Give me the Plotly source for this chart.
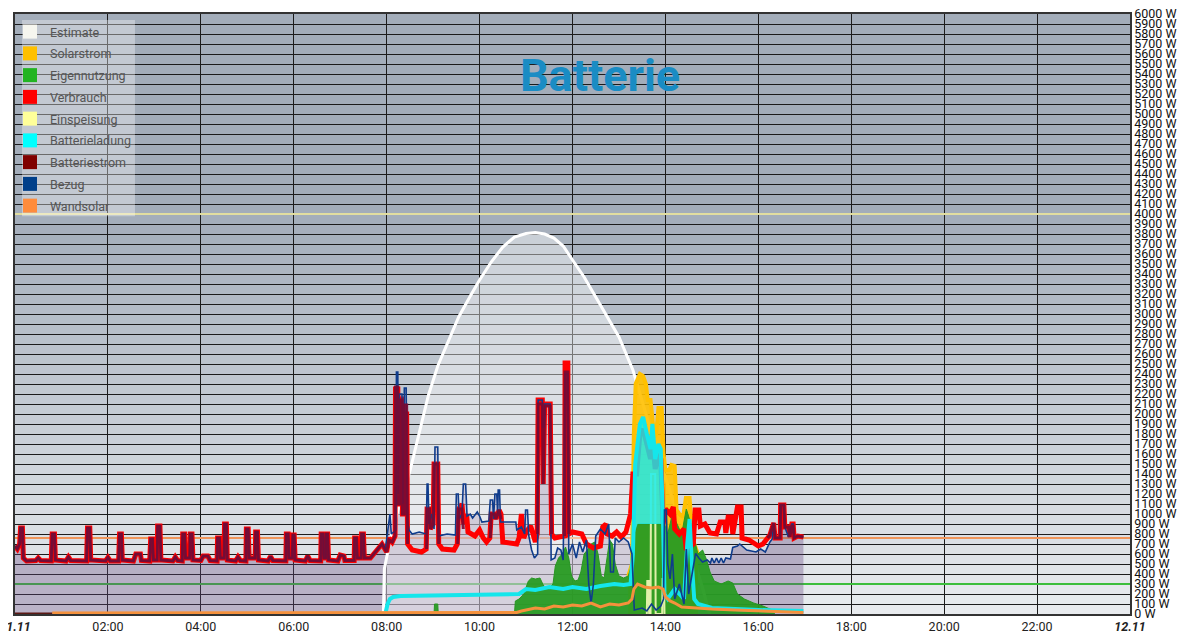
import plotly.graph_objects as go

# ---------------- data (hours since 11.11 00:00, watts) ----------------
night_t = [0.00, 0.05, 0.10, 0.12, 0.16, 0.18, 0.25, 0.45, 0.50, 0.55, 0.78, 0.80, 0.85, 0.87,
           1.10, 1.15, 1.20, 1.54, 1.56, 1.61, 1.63, 1.95, 2.00, 2.05, 2.23, 2.25, 2.29, 2.31,
           2.55, 2.60, 2.70, 2.72, 2.90, 2.92, 2.96, 2.98, 3.06, 3.07, 3.12, 3.14, 3.40, 3.45,
           3.50, 3.60, 3.61, 3.65, 3.67, 3.76, 3.77, 3.81, 3.83, 4.00, 4.05, 4.15, 4.20, 4.35,
           4.36, 4.40, 4.42, 4.50, 4.51, 4.55, 4.57, 4.75, 4.80, 4.85, 4.97, 4.98, 5.02, 5.04,
           5.17, 5.18, 5.22, 5.24, 5.45, 5.50, 5.55, 5.83, 5.84, 5.88, 5.90, 5.97, 5.98, 6.01,
           6.03, 6.25, 6.30, 6.35, 6.58, 6.59, 6.63, 6.65, 6.69, 6.70, 6.73, 6.75, 6.95, 7.00,
           7.08, 7.10, 7.30, 7.31, 7.35, 7.37, 7.45, 7.46, 7.50, 7.52, 7.65]
night_w = [680, 650, 700, 860, 860, 560, 530, 535, 560, 535, 530, 800, 800, 540,
           530, 570, 535, 530, 860, 860, 540, 530, 565, 530, 530, 800, 800, 540,
           530, 600, 600, 535, 530, 750, 750, 540, 540, 880, 880, 540, 530, 570,
           535, 530, 800, 800, 560, 560, 800, 800, 540, 535, 580, 580, 535, 530,
           760, 760, 560, 560, 900, 900, 540, 530, 570, 535, 530, 850, 850, 560,
           560, 820, 820, 540, 530, 575, 535, 530, 800, 800, 560, 560, 790, 790,
           540, 530, 580, 535, 530, 800, 800, 560, 560, 800, 800, 540, 530, 590,
           580, 535, 535, 760, 760, 560, 560, 800, 800, 560, 560]

verbrauch_t = [7.80, 7.90, 8.00, 8.05, 8.12, 8.18, 8.19, 8.24, 8.25, 8.28, 8.29, 8.33, 8.34, 8.38,
               8.39, 8.43, 8.45, 8.55, 8.75, 8.85, 8.87, 8.92, 8.94, 9.00, 9.02, 9.10, 9.12, 9.20,
               9.45, 9.52, 9.55, 9.62, 9.66, 9.72, 9.75, 9.90, 10.00, 10.08, 10.15, 10.22, 10.25,
               10.32, 10.35, 10.42, 10.46, 10.50, 10.80, 10.85, 10.90, 10.95, 11.00, 11.10, 11.20,
               11.24, 11.26, 11.35, 11.37, 11.40, 11.52, 11.55, 11.62, 11.75, 11.83, 11.84, 11.90,
               11.92, 12.00, 12.20, 12.30, 12.45, 12.60, 12.65, 12.72, 12.75, 12.85, 12.95, 13.05,
               13.15, 13.25, 13.30, 13.38, 13.45, 13.52, 13.60, 13.68, 13.72, 13.78, 13.85, 13.90,
               13.95, 14.00, 14.10, 14.17, 14.20,
               14.30, 14.40, 14.45, 14.60, 14.64, 14.72, 14.75, 14.85, 14.96, 15.10, 15.18, 15.28,
               15.30, 15.35, 15.42, 15.45, 15.55, 15.63, 15.65, 15.80, 15.90, 16.00, 16.10, 16.20,
               16.25, 16.33, 16.36, 16.47, 16.48, 16.55, 16.57, 16.65, 16.68, 16.72, 16.75, 16.77,
               16.85, 16.97]
verbrauch_w = [640, 700, 620, 760, 720, 780, 2250, 2250, 1100, 1100, 2150, 2150, 1000, 1000,
               2000, 2000, 700, 640, 620, 650, 1050, 1050, 850, 900, 1500, 1500, 700, 650,
               640, 700, 1050, 1100, 900, 1000, 820, 780, 840, 760, 720, 760, 1000,
               1000, 950, 1040, 1000, 720, 700, 760, 1000, 760, 820, 880, 720,
               800, 2140, 2140, 1300, 2100, 2100, 800, 760, 780, 780, 2510, 2510,
               800, 820, 800, 700, 660, 680, 870, 900, 800, 780, 820, 770,
               820, 1000, 1400, 1400, 1800, 1850, 1700, 1550, 1750, 1450, 1600, 1550,
               900, 1050, 1000, 1070, 850,
               800, 850, 640, 700, 1040, 1040, 880, 900, 810, 800, 920, 920,
               810, 970, 970, 800, 1070, 1070, 760, 740, 710, 680, 700, 760,
               790, 910, 760, 760, 1090, 1090, 870, 870, 770, 900, 900, 760,
               780, 770]

bezug_t = [7.80, 7.90, 7.97, 8.02, 8.07, 8.10, 8.16, 8.20, 8.21, 8.24, 8.25, 8.27, 8.33, 8.35,
           8.38, 8.42, 8.44, 8.48, 8.55, 8.70, 8.85, 8.87, 8.89, 8.91, 8.97, 9.02, 9.04, 9.10,
           9.12, 9.30, 9.48, 9.50, 9.54, 9.56, 9.62, 9.65, 9.70, 9.73, 9.80, 9.85, 9.95, 10.00,
           10.05, 10.20, 10.23, 10.28, 10.30, 10.33, 10.37, 10.39, 10.40, 10.43, 10.45, 10.78,
           10.80, 10.90, 10.97, 10.99, 11.03, 11.06, 11.12, 11.18, 11.25, 11.26, 11.35, 11.36,
           11.39, 11.40, 11.52, 11.54, 11.62, 11.68, 11.75, 11.80, 11.84, 11.90, 11.92, 12.00,
           12.08, 12.15, 12.22, 12.30, 12.35, 12.40, 12.45, 12.50, 12.60, 12.70, 12.78, 12.82,
           12.88, 12.92, 13.00, 13.10, 13.20, 13.28, 13.33, 13.50, 13.60, 13.70, 13.80, 13.90,
           13.96, 13.98, 14.02, 14.05, 14.10, 14.15, 14.20, 14.30, 14.40, 14.45, 14.50, 14.60,
           14.65, 14.72, 14.80, 14.90, 14.97, 15.00, 15.05, 15.10, 15.15, 15.20, 15.25, 15.30,
           15.40, 15.45, 15.55, 15.60, 15.75, 15.85, 15.95, 16.05, 16.15, 16.25, 16.30, 16.33,
           16.36, 16.47, 16.48, 16.55, 16.57, 16.65, 16.72, 16.75, 16.77, 16.85, 16.97]
bezug_w = [640, 700, 640, 850, 1000, 800, 820, 840, 2420, 2420, 1200, 2200, 2200, 1100,
           2260, 2260, 950, 840, 800, 820, 800, 1300, 1300, 900, 1000, 850, 1670, 1670,
           780, 800, 790, 1200, 1200, 950, 1000, 1300, 1300, 980, 1000, 960, 1020, 980,
           920, 930, 1140, 1140, 950, 1200, 1200, 1000, 1240, 1240, 920, 920,
           840, 870, 800, 1040, 1040, 780, 640, 560, 600, 2140, 2140, 1870,
           1870, 2100, 2100, 540, 560, 660, 640, 540, 2400, 2400, 600, 700,
           560, 720, 620, 740, 300, 110, 300, 780, 850, 800, 900, 420,
           420, 760, 720, 760, 720, 600, 40, 60, 30, 100, 40, 80,
           150, 1040, 1040, 500, 350, 600, 150, 300, 100, 650, 200, 500,
           606, 560, 520, 540, 510, 560, 510, 560, 510, 560, 510, 560,
           550, 666, 680, 700, 640, 630, 620, 650, 620, 720, 750, 910,
           760, 760, 1090, 1090, 870, 770, 900, 900, 760, 780, 770]

# Batteriestrom during the day: spikes only (None = no value)
batterie_t = [7.80, 7.90, 8.00, 8.05, 8.12, 8.18, 8.19, 8.24, 8.25, 8.28, 8.29, 8.33, 8.34, 8.38, 8.39,
              8.43, 8.45, 8.46,
              8.86, 8.87, 8.92, 8.94, 9.00, 9.02, 9.10, 9.12, 9.13,
              9.53, 9.55, 9.62, 9.65, 9.66,
              10.23, 10.25, 10.32, 10.35, 10.42, 10.46, 10.47,
              11.25, 11.26, 11.35, 11.37, 11.40, 11.52, 11.55, 11.56,
              11.83, 11.84, 11.90, 11.92, 11.93,
              16.20, 16.25, 16.33, 16.36, 16.47, 16.48, 16.55, 16.57, 16.65, 16.68, 16.72, 16.75,
              16.77, 16.85, 16.97]
batterie_w = [640, 700, 620, 740, 720, 780, 2270, 2270, 1100, 1100, 2140, 2140, 1000, 1000, 2090,
              2090, 700, None,
              650, 1050, 1050, 850, 900, 1500, 1500, 700, None,
              700, 1050, 1050, 850, None,
              760, 1000, 1000, 950, 1040, 950, None,
              800, 2100, 2100, 1300, 2080, 2080, 800, None,
              780, 2420, 2420, 800, None,
              760, 790, 910, 760, 760, 1090, 1090, 870, 870, 770, 880, 880,
              760, 780, 770]

estimate_t = [7.93, 7.95, 8.10, 8.30, 8.50, 8.70, 8.90, 9.10, 9.30, 9.55, 9.80, 10.00, 10.25, 10.50,
              10.75, 11.00, 11.20, 11.40, 11.60, 11.80, 12.00, 12.25, 12.50, 12.75, 13.00, 13.30,
              13.60, 13.90, 14.20, 14.40, 14.60, 14.80, 14.95]
estimate_w = [0, 450, 800, 1130, 1430, 1820, 2190, 2480, 2700, 2970, 3180, 3340, 3520, 3670,
              3770, 3805, 3815, 3800, 3760, 3680, 3540, 3370, 3170, 2970, 2770, 2440,
              1980, 1500, 1090, 860, 560, 260, 0]

solar_t = [13.20, 13.28, 13.32, 13.36, 13.45, 13.52, 13.58, 13.62, 13.68, 13.72, 13.76, 13.80, 13.85,
           13.92, 13.96, 14.00, 14.08, 14.13, 14.20, 14.24, 14.30, 14.38, 14.44, 14.52, 14.58,
           14.62, 14.70]
solar_w = [380, 500, 1800, 2300, 2400, 2380, 2300, 2140, 2140, 1900, 1770, 1800, 2060,
           2060, 1600, 1440, 1440, 1490, 1480, 1040, 1000, 970, 1160, 1160, 800,
           700, 600]

eigen_t = [9.02, 9.03, 9.10, 9.11, 10.75, 10.77, 10.85, 10.95, 11.05, 11.12, 11.20, 11.30, 11.38,
           11.50, 11.58, 11.63, 11.70, 11.78, 11.85, 11.92, 11.98, 12.05, 12.12, 12.18, 12.25,
           12.32, 12.40, 12.48, 12.55, 12.62, 12.68, 12.74, 12.80, 12.86, 12.92, 13.00, 13.10,
           13.20, 13.28, 13.32, 13.40, 13.98, 14.05, 14.15, 14.25, 14.35, 14.45, 14.55, 14.62,
           14.70, 14.80, 14.88, 14.96, 15.05, 15.20, 15.35, 15.45, 15.55, 15.70, 15.90, 16.10,
           16.30, 16.35]
eigen_w = [0, 100, 100, 0, 0, 130, 150, 200, 330, 360, 350, 360, 280,
           260, 300, 480, 560, 600, 670, 560, 380, 330, 340, 420, 600,
           640, 700, 720, 600, 380, 360, 560, 740, 700, 500, 380, 360,
           380, 500, 780, 900, 900, 800, 1000, 900, 800, 1050, 900, 750,
           600, 640, 550, 420, 330, 300, 330, 310, 200, 150, 110, 80,
           40, 0]

einspeisung_t = [13.60, 13.61, 13.64, 13.65, 13.68, 13.69, 13.78, 13.79, 13.93, 13.94, 13.97, 13.98]
einspeisung_w = [0, 330, 330, 0, 0, 1400, 1400, 0, 0, 350, 350, 0]

ladung_t = [7.98, 8.02, 8.07, 8.14, 8.30, 9.00, 10.00, 10.80, 10.85, 11.00, 11.20, 11.50, 11.80,
            12.00, 12.30, 12.60, 12.90, 13.10, 13.25, 13.30, 13.35, 13.45, 13.52, 13.60, 13.68,
            13.72, 13.78, 13.85, 13.90, 13.95, 13.98, 14.05, 14.20, 14.30, 14.40, 14.47, 14.52,
            14.57, 14.62, 14.70, 15.00, 16.00, 16.97]
ladung_w = [20, 100, 150, 170, 180, 185, 190, 190, 200, 250, 240, 270, 250,
            270, 250, 280, 300, 290, 300, 600, 1500, 1900, 1970, 1800, 1650,
            1900, 1550, 1700, 1650, 900, 200, 150, 250, 200, 150, 700, 950,
            500, 150, 100, 60, 40, 30]

wand_t = [0.80, 10.80, 10.90, 11.00, 11.20, 11.40, 11.60, 11.80, 12.00, 12.20, 12.40, 12.60, 12.80,
          13.00, 13.20, 13.28, 13.32, 13.40, 13.55, 13.70, 13.85, 13.95, 14.00, 14.10, 14.20,
          14.35, 14.60, 15.00, 15.50, 16.00, 16.50, 16.97]
wand_w = [10, 15, 30, 40, 60, 50, 80, 70, 90, 80, 110, 70, 100,
          90, 110, 150, 250, 300, 270, 260, 270, 250, 170, 130, 110,
          70, 60, 50, 40, 30, 20, 15]

early_t = [0.0, 0.8]       # dark segment at 0 W before Wandsolar starts
early_w = [0, 0]

ref_levels = [4000, 760, 300]           # constant reference lines
day_span = [0, 24]
charge_peak = (13.28, 14.0)             # window where the charging curve is shown as an area

legend_names = ["Estimate", "Solarstrom", "Eigennutzung", "Verbrauch", "Einspeisung",
                "Batterieladung", "Batteriestrom", "Bezug", "Wandsolar"]

x_tickvals = list(range(0, 25, 2))
x_ticktext = ["<b><i>11.11</i></b>"] + [f"{h:02d}:00" for h in range(2, 24, 2)] + ["<b><i>12.11</i></b>"]
y_tickvals = list(range(0, 6001, 100))
y_ticktext = [f"{v} W" for v in y_tickvals]

# ---------------- styles ----------------
C = {
    "Estimate": "#f6f6ef", "Solarstrom": "#ffc000", "Eigennutzung": "#22b422",
    "Verbrauch": "#ff0000", "Einspeisung": "#ffff99", "Batterieladung": "#00ffff",
    "Batteriestrom": "#800000", "Bezug": "#003f8a", "Wandsolar": "#ff8c3c",
}

# the page body adds an 8px offset; the figure is sized to fill the rest of the 1200x636 view
OFF = 8
FIG_W, FIG_H = 1200 - OFF, 636 - OFF

fig = go.Figure()

# background bands (gradient)
top_c = (163, 173, 186)
bot_c = (233, 236, 239)
shapes = []
for k in range(60):
    mid = k * 100 + 50
    if mid >= 4000:
        c = top_c
    else:
        f = mid / 4000.0
        c = tuple(round(bot_c[i] + (top_c[i] - bot_c[i]) * f) for i in range(3))
    shapes.append(dict(type="rect", xref="paper", yref="y", x0=0, x1=1, y0=k * 100, y1=(k + 1) * 100,
                       fillcolor=f"rgb{c}", line=dict(width=0), layer="below"))
# legend box
shapes.append(dict(type="rect", xref="paper", yref="paper", x0=0.0063, x1=0.1076, y0=0.663, y1=0.99,
                   fillcolor="rgba(255,255,255,0.35)", line=dict(width=0), layer="above"))

xs24 = [day_span[0], day_span[1]]
ref_colors = ["rgb(226,222,160)", "rgb(240,150,90)", "rgb(60,190,60)"]
for lvl, col in zip(ref_levels, ref_colors):
    fig.add_trace(go.Scatter(x=xs24, y=[lvl, lvl], mode="lines", line=dict(color=col, width=2),
                             showlegend=False, hoverinfo="skip"))

bez_x = night_t + bezug_t
bez_y = night_w + bezug_w
ver_x = night_t + verbrauch_t
ver_y = night_w + verbrauch_w
bat_x = night_t + batterie_t
bat_y = night_w + batterie_w
peak_idx = [i for i, t in enumerate(ladung_t) if charge_peak[0] <= t <= charge_peak[1]]
peak_x = [ladung_t[i] for i in peak_idx]
peak_y = [ladung_w[i] for i in peak_idx]
base_idx = [i for i, t in enumerate(eigen_t) if charge_peak[0] <= t <= charge_peak[1]]
base_x = [eigen_t[i] for i in base_idx]
base_y = [eigen_w[i] for i in base_idx]

# Bezug fill
fig.add_trace(go.Scatter(x=bez_x, y=bez_y, mode="lines", line=dict(width=0), fill="tozeroy",
                         fillcolor="rgba(100,70,125,0.34)", showlegend=False, hoverinfo="skip"))
# Estimate
fig.add_trace(go.Scatter(x=estimate_t, y=estimate_w, mode="lines", line=dict(color="white", width=3),
                         fill="tozeroy", fillcolor="rgba(255,255,255,0.40)", showlegend=False))
# Solarstrom
fig.add_trace(go.Scatter(x=solar_t, y=solar_w, mode="lines", line=dict(color=C["Solarstrom"], width=4),
                         fill="tozeroy", fillcolor="rgba(255,192,0,0.9)", showlegend=False))
# Eigennutzung
fig.add_trace(go.Scatter(x=eigen_t, y=eigen_w, mode="lines", line=dict(color="rgb(40,150,35)", width=1),
                         fill="tozeroy", fillcolor="rgba(40,155,35,0.95)", showlegend=False))
# Einspeisung
fig.add_trace(go.Scatter(x=einspeisung_t, y=einspeisung_w, mode="lines",
                         line=dict(color="rgb(225,240,170)", width=2), showlegend=False))
# Verbrauch
fig.add_trace(go.Scatter(x=ver_x, y=ver_y, mode="lines", line=dict(color=C["Verbrauch"], width=5),
                         showlegend=False))
# Batterieladung: area (above own-use) during the midday peak, line everywhere
fig.add_trace(go.Scatter(x=base_x, y=base_y, mode="lines", line=dict(width=0),
                         showlegend=False, hoverinfo="skip"))
fig.add_trace(go.Scatter(x=peak_x, y=peak_y, mode="lines", line=dict(width=0), fill="tonexty",
                         fillcolor="rgba(20,235,240,0.82)", showlegend=False, hoverinfo="skip"))
fig.add_trace(go.Scatter(x=ladung_t, y=ladung_w, mode="lines", line=dict(color="rgb(20,230,235)", width=4),
                         showlegend=False))
# Bezug line
fig.add_trace(go.Scatter(x=bez_x, y=bez_y, mode="lines", line=dict(color="rgb(15,60,140)", width=1.6),
                         showlegend=False))
# Batteriestrom
fig.add_trace(go.Scatter(x=bat_x, y=bat_y, mode="lines", line=dict(color="rgba(120,10,50,0.92)", width=3),
                         connectgaps=False, showlegend=False))
# Wandsolar
fig.add_trace(go.Scatter(x=wand_t, y=wand_w, mode="lines", line=dict(color="rgb(245,145,60)", width=3),
                         showlegend=False))
fig.add_trace(go.Scatter(x=early_t, y=early_w, mode="lines", line=dict(color="rgb(90,25,20)", width=3),
                         showlegend=False))

# legend-only entries with square swatches
for n in legend_names:
    fig.add_trace(go.Scatter(x=[None], y=[None], mode="markers", name=n, legendgroup=n,
                             marker=dict(symbol="square", size=14, color=C[n]), showlegend=True))

fig.update_layout(
    width=FIG_W, height=FIG_H,
    margin=dict(l=15 - OFF, r=70, t=14 - OFF, b=22, autoexpand=False),
    paper_bgcolor="white",
    plot_bgcolor="rgb(200,206,213)",
    shapes=shapes,
    font=dict(family="Roboto, Arial, sans-serif", size=12.5, color="#111"),
    title=dict(text="<b>Batterie</b>", x=(600 - OFF) / FIG_W, xref="container", xanchor="center",
               y=1 - (75 - OFF) / FIG_H, yref="container", yanchor="middle",
               font=dict(family="Roboto, Arial, sans-serif", size=45, color="#1a8cc4")),
    legend=dict(x=-0.0045, y=0.995, xanchor="left", yanchor="top", bgcolor="rgba(0,0,0,0)",
                font=dict(family="Roboto, Arial, sans-serif", size=12.5, color="#555"),
                itemsizing="trace", traceorder="grouped", tracegroupgap=2.5),
    showlegend=True,
)
fig.update_xaxes(range=[0, 24], tickmode="array", tickvals=x_tickvals, ticktext=x_ticktext,
                 showgrid=True, gridcolor="#1c1c1c", gridwidth=1.3, zeroline=False,
                 showline=True, mirror=True, linecolor="#333", linewidth=1.5, automargin=False,
                 ticklabeloverflow="allow",
                 tickfont=dict(size=12.5, color="#222"), ticks="")
fig.update_yaxes(range=[0, 6000], side="right", tickmode="array", tickvals=y_tickvals, ticktext=y_ticktext,
                 showgrid=True, gridcolor="#1c1c1c", gridwidth=1.3, zeroline=False,
                 showline=True, mirror=True, linecolor="#333", linewidth=1.5, automargin=False,
                 ticklabeloverflow="allow",
                 tickfont=dict(size=12.5, color="#111"), ticks="")

fig.write_html("out.html")
